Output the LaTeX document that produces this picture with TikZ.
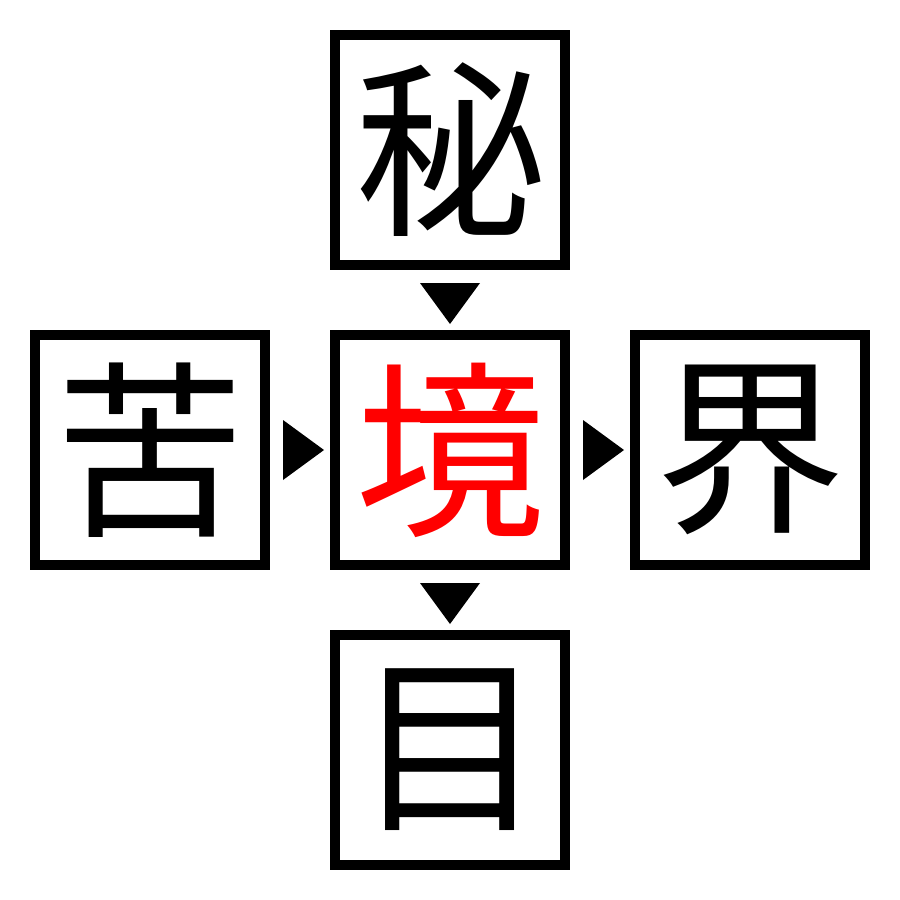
\documentclass[tikz,border=0pt]{standalone}
\usepackage{fontspec}
\newfontfamily\cjk{Noto Sans CJK JP}
\begin{document}
\begin{tikzpicture}[x=1pt,y=-1pt,
  kbox/.style={draw=black,line width=10pt,minimum size=230pt,inner sep=0pt,font=\cjk\fontsize{190}{190}\selectfont},
  tri/.style={fill=black,draw=none}]
\useasboundingbox (0,0) rectangle (900,900);
\node[kbox] (top) at (450,150) {秘};
\node[kbox,text={rgb,255:red,255;green,0;blue,0}] (mid) at (450,450) {境};
\node[kbox] (left) at (150,450) {苦};
\node[kbox] (right) at (750,450) {界};
\node[kbox] (bot) at (450,750) {目};
\fill[tri] (420,283) -- (480,283) -- (450,324) -- cycle;
\fill[tri] (420,583) -- (480,583) -- (450,624) -- cycle;
\fill[tri] (283,420) -- (283,480) -- (324,450) -- cycle;
\fill[tri] (583,420) -- (583,480) -- (624,450) -- cycle;
\end{tikzpicture}
\end{document}
